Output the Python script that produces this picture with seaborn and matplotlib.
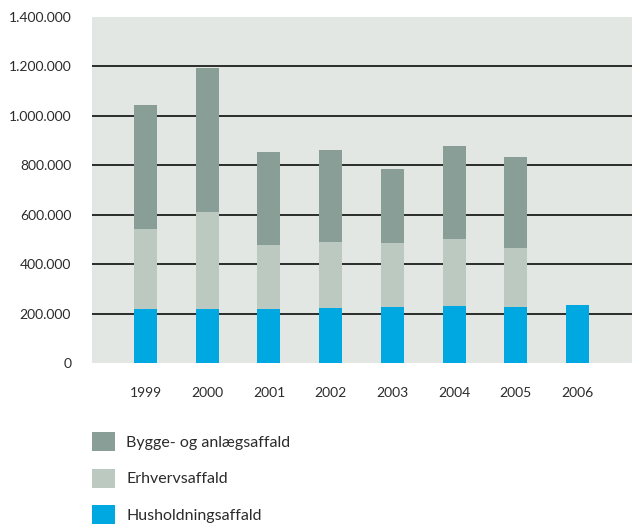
import numpy as np
import pandas as pd
import seaborn as sns
import matplotlib.pyplot as plt
from matplotlib.patches import Patch
from matplotlib.ticker import FuncFormatter

years = ["1999", "2000", "2001", "2002", "2003", "2004", "2005", "2006"]
husholdning = [217000, 217000, 217000, 221000, 225000, 229000, 225000, 233000]
erhverv = [325000, 394000, 260000, 268000, 260000, 272000, 240000, 0]
bygge = [500000, 582000, 378000, 374000, 301000, 378000, 370000, 0]

labels = ["Bygge- og anlægsaffald", "Erhvervsaffald", "Husholdningsaffald"]
colors = ["#8a9e98", "#bcc9c0", "#00a8e1"]

df = pd.DataFrame({"year": years, "hus": husholdning, "erh": erhverv, "byg": bygge})
df["level2"] = df["hus"] + df["erh"]
df["level3"] = df["level2"] + df["byg"]

sns.set_theme(style="white")
plt.rcParams["font.family"] = ["Lato", "DejaVu Sans"]

fig = plt.figure(figsize=(6.32, 5.24), dpi=100)
ax = fig.add_axes([92 / 632, 1 - 363 / 524, 540 / 632, 346 / 524])
ax.set_facecolor("#e2e7e3")

bw = 0.373
for col, c in zip(["level3", "level2", "hus"], colors):
    sns.barplot(data=df, x="year", y=col, order=years, color=c, width=bw,
                saturation=1, ax=ax, errorbar=None, linewidth=0)

ax.set_xlim(-0.867, 7.883)
ax.set_ylim(0, 1400000)
ax.set_yticks(np.arange(0, 1400001, 200000))
ax.yaxis.set_major_formatter(FuncFormatter(lambda v, p: f"{int(v):,}".replace(",", ".")))
ax.set_axisbelow(True)
ax.yaxis.grid(True, color="#2b2b2b", linewidth=1.4)
ax.xaxis.grid(False)
gl = ax.yaxis.get_gridlines()
gl[0].set_visible(False)
gl[-1].set_visible(False)

for s in ax.spines.values():
    s.set_visible(False)
ax.set_xlabel("")
ax.set_ylabel("")
ax.tick_params(axis="y", length=0, pad=15, labelsize=10, labelcolor="#2b2b2b")
ax.tick_params(axis="x", length=0, pad=17, labelsize=10, labelcolor="#2b2b2b")

handles = [Patch(facecolor=c, edgecolor="none") for c in colors]
fig.legend(handles, labels, loc="upper left", bbox_to_anchor=(92 / 632, 1 - 432 / 524),
           frameon=False, borderpad=0, borderaxespad=0, fontsize=11.5,
           handlelength=1.45, handleheight=1.45, handletextpad=0.7,
           labelspacing=1.1, labelcolor="#2b2b2b")

fig.savefig("out.png", dpi=100)
